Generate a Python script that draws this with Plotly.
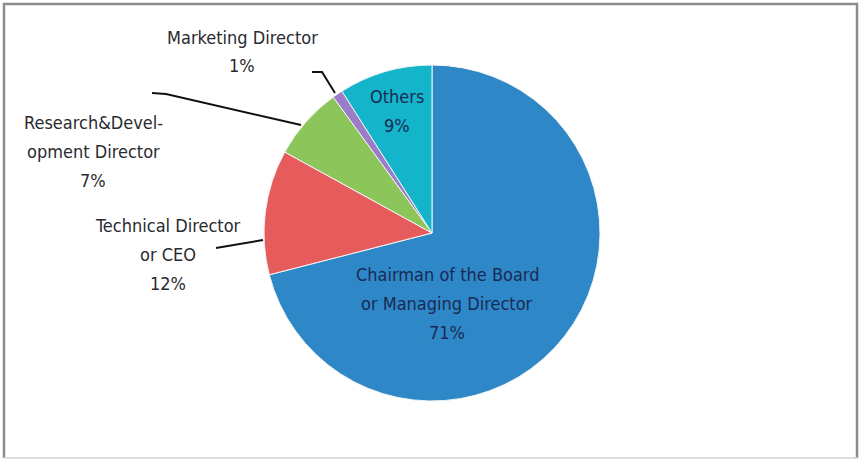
import plotly.graph_objects as go

W, H = 862, 462

# ---- data ----
categories = [
    "Chairman of the Board or Managing Director",
    "Technical Director or CEO",
    "Research&Development Director",
    "Marketing Director",
    "Others",
]
values = [71, 12, 7, 1, 9]
label_lines = [
    ["Chairman of the Board", "or Managing Director"],
    ["Technical Director", "or CEO"],
    ["Research&Devel-", "opment Director"],
    ["Marketing Director"],
    ["Others"],
]

# ---- style ----
colors = ["#2E88C8", "#E65B5B", "#8CC65B", "#9A7CC8", "#14B4CB"]
text_colors = ["#1a2a55", "#2a2a30", "#2a2a30", "#2a2a30", "#1a2a55"]
# first-line centre of each label (pixels)
label_pos = [(447, 274), (168, 225), (93, 122), (242, 37), (397, 97)]
line_gap = 29
FONT = "DejaVu Sans Condensed, Liberation Sans Narrow, Arial Narrow, sans-serif"


def px(x):
    return x / W


def py(y):
    return 1 - y / H


fig = go.Figure()
fig.add_trace(go.Pie(
    labels=categories,
    values=values,
    sort=False,
    direction="clockwise",
    rotation=0,
    textinfo="none",
    hoverinfo="label+percent",
    marker=dict(colors=colors, line=dict(color="#f4f4f4", width=1)),
    domain=dict(x=[px(264), px(600)], y=[py(401), py(65)]),
    showlegend=False,
))

annotations = []
for lines, v, (cx, cy), tc in zip(label_lines, values, label_pos, text_colors):
    for i, t in enumerate(lines + [f"{v}%"]):
        annotations.append(dict(
            x=px(cx), y=py(cy + i * line_gap), xref="paper", yref="paper",
            text=t, showarrow=False, xanchor="center", yanchor="middle",
            font=dict(family=FONT, size=18, color=tc),
        ))

# leader lines (pixel paths)
leaders = [
    [(216, 248), (263, 240)],
    [(152, 93), (166, 94), (301, 125)],
    [(312, 72), (322, 72), (335, 93)],
]
shapes = []
for pts in leaders:
    path = "M " + " L ".join(f"{px(x)},{py(y)}" for x, y in pts)
    shapes.append(dict(type="path", xref="paper", yref="paper", path=path,
                       line=dict(color="#111111", width=2)))

# frame
shapes.append(dict(type="path", xref="paper", yref="paper",
                   path=f"M {px(4)},{py(458)} L {px(4)},{py(4)} L {px(857)},{py(4)} L {px(857)},{py(458)}",
                   line=dict(color="#8c8c8c", width=2.5)))
shapes.append(dict(type="line", xref="paper", yref="paper",
                   x0=px(4), y0=py(458), x1=px(857), y1=py(458),
                   line=dict(color="#dddddd", width=2)))

fig.update_layout(
    width=W, height=H,
    margin=dict(l=0, r=0, t=0, b=0),
    paper_bgcolor="white",
    plot_bgcolor="white",
    annotations=annotations,
    shapes=shapes,
)

fig.write_html("out.html",
               config={"displayModeBar": False},
               post_script="document.body.style.margin='0';document.body.style.overflow='hidden';")
